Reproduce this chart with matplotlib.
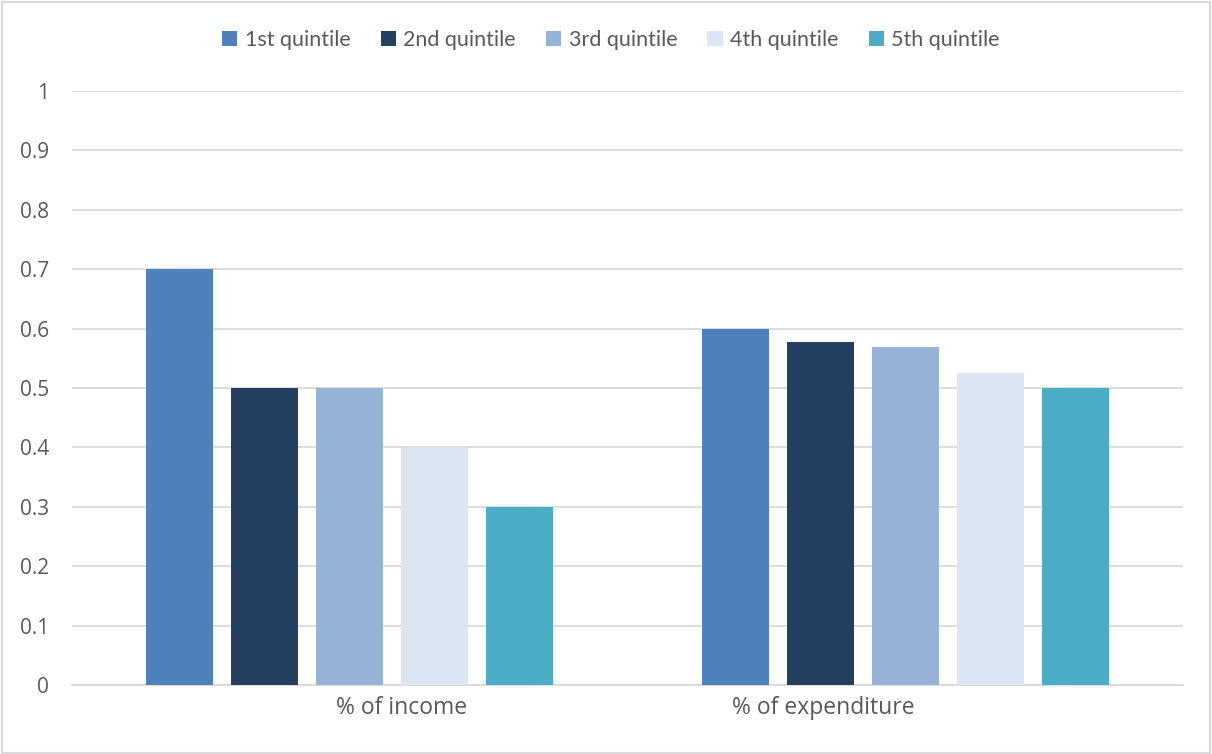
import matplotlib
matplotlib.use("Agg")
import matplotlib.pyplot as plt
import matplotlib.transforms as mtransforms
import numpy as np
from matplotlib.patches import Rectangle

categories = ["% of income", "% of expenditure"]
series_names = ["1st quintile", "2nd quintile", "3rd quintile", "4th quintile", "5th quintile"]
q1 = [0.70, 0.60]
q2 = [0.50, 0.577]
q3 = [0.50, 0.569]
q4 = [0.40, 0.525]
q5 = [0.30, 0.50]
series_values = [q1, q2, q3, q4, q5]
colors = ["#4F81BD", "#243F60", "#95B3D7", "#DCE6F2", "#4BACC6"]
yticks = [0, 0.1, 0.2, 0.3, 0.4, 0.5, 0.6, 0.7, 0.8, 0.9, 1]
ytick_labels = ["0", "0.1", "0.2", "0.3", "0.4", "0.5", "0.6", "0.7", "0.8", "0.9", "1"]

plt.rcParams['font.family'] = ['Open Sans', 'DejaVu Sans']
text_color = "#595959"

W, H = 1212, 754
fig = plt.figure(figsize=(W / 100, H / 100), dpi=100)
ax = fig.add_axes([72 / W, 1 - 685 / H, (1183 - 72) / W, (685 - 91) / H])

x = np.arange(len(categories))
step = 0.153
width = 0.1206
for i, (name, vals, c) in enumerate(zip(series_names, series_values, colors)):
    ax.bar(x + (i - 2) * step, vals, width=width, color=c, label=name, zorder=3)

ax.set_xlim(-0.5, 1.5)
ax.set_ylim(0, 1)
ax.set_yticks(yticks)
ax.set_yticklabels(ytick_labels)
ax.set_xticks(x)
ax.set_xticklabels(categories)
ax.yaxis.grid(True, color="#D9D9D9", linewidth=1.3, zorder=0)
for s in ["top", "right", "left"]:
    ax.spines[s].set_visible(False)
ax.spines["bottom"].set_color("#D9D9D9")
ax.spines["bottom"].set_linewidth(1.3)
ax.tick_params(axis="both", length=0, colors=text_color)
ax.tick_params(axis="y", pad=16.5, labelsize=15)
ax.tick_params(axis="x", pad=8, labelsize=16.5)

# Excel-style offset of category labels
offsets_px = [52, -82]
for lbl, dx in zip(ax.get_xticklabels(), offsets_px):
    lbl.set_transform(lbl.get_transform() + mtransforms.ScaledTranslation(dx / 100, 0, fig.dpi_scale_trans))

leg = fig.legend(loc="center", bbox_to_anchor=(611 / W, 1 - 40 / H), ncol=5, frameon=False,
                 prop={"family": ["Lato", "DejaVu Sans"], "size": 15.5},
                 handlelength=0.7, handleheight=0.7, handletextpad=0.35,
                 columnspacing=1.4, labelcolor=text_color)

fig.patches.append(Rectangle((2 / W, 1 / H), 1 - 4 / W, 1 - 3 / H, transform=fig.transFigure,
                             fill=False, edgecolor="#D9D9D9", linewidth=1.5))

fig.savefig("out.png", dpi=100, facecolor="white")
